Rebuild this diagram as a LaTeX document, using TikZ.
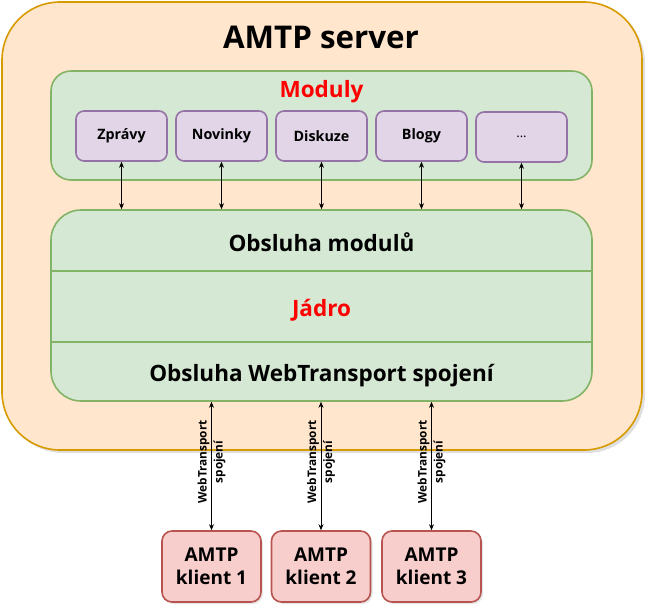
\documentclass[tikz,border=0pt]{standalone}
\usepackage{fontspec}
\setmainfont{Open Sans}
\usetikzlibrary{arrows.meta,shadows}
\definecolor{srvfill}{HTML}{FFE6CC}
\definecolor{srvline}{HTML}{D79B00}
\definecolor{grnfill}{HTML}{D5E8D4}
\definecolor{grnline}{HTML}{82B366}
\definecolor{modfill}{HTML}{E1D5E7}
\definecolor{modline}{HTML}{9673A6}
\definecolor{clifill}{HTML}{F8CECC}
\definecolor{cliline}{HTML}{B85450}
\begin{document}
\begin{tikzpicture}[x=1pt, y=-1pt,
  srvbox/.style={draw=srvline, fill=srvfill, line width=1.6pt, rounded corners=58pt,
    minimum width=640pt, minimum height=448pt, drop shadow={shadow xshift=3pt, shadow yshift=-3pt, opacity=0.25}},
  grnbox/.style={draw=grnline, fill=grnfill, line width=1.6pt, minimum width=541pt},
  modbox/.style={draw=modline, fill=modfill, line width=1.6pt, rounded corners=8pt,
    minimum width=91pt, minimum height=50pt, font=\bfseries\fontsize{14.3}{16}\selectfont},
  clibox/.style={draw=cliline, fill=clifill, line width=1.6pt, rounded corners=10pt,
    minimum width=99pt, minimum height=71pt, align=center, font=\bfseries\fontsize{19}{23}\selectfont},
  lbl/.style={anchor=base, font=\bfseries\fontsize{22.5}{25}\selectfont},
  conn/.style={{Stealth[length=6pt,width=5pt]}-{Stealth[length=6pt,width=5pt]}, line width=0.7pt},
  wtlbl/.style={rotate=90, align=center, font=\bfseries\fontsize{11.8}{16}\selectfont}]
\useasboundingbox (0,0) rectangle (654,614);
\node[srvbox] (server) at (322,226){};
\node[anchor=base, font=\bfseries\fontsize{31.3}{36}\selectfont] (title) at (321,48){AMTP server};
% moduly
\node[grnbox, rounded corners=20pt, minimum height=109pt] (moduly) at (321.5,125.5){};
\node[lbl, red] (modlbl) at (321.5,97){Moduly};
\node[modbox] (mod1) at (121.5,136){Zprávy};
\node[modbox] (mod2) at (221.5,136){Novinky};
\node[modbox] (mod3) at (321.5,136){Diskuze};
\node[modbox] (mod4) at (421.5,136){Blogy};
\node[modbox, font=\fontsize{13}{15}\selectfont] (mod5) at (521.5,137){...};
% jadro
\node[grnbox, rounded corners=30pt, minimum height=191pt] (core) at (321.5,305.5){};
\draw[grnline, line width=1.6pt] (core.west |- 0,271) -- (core.east |- 0,271);
\draw[grnline, line width=1.6pt] (core.west |- 0,342) -- (core.east |- 0,342);
\node[lbl] (obsmod) at (321.5,251){Obsluha modulů};
\node[lbl, red] (jadro) at (321.5,316){Jádro};
\node[lbl] (obswt) at (321.5,381){Obsluha WebTransport spojení};
\draw[conn](mod1.south) -- (mod1.south |- core.north);
\draw[conn](mod2.south) -- (mod2.south |- core.north);
\draw[conn](mod3.south) -- (mod3.south |- core.north);
\draw[conn](mod4.south) -- (mod4.south |- core.north);
\draw[conn](mod5.south) -- (mod5.south |- core.north);
% klienti
\node[clibox, drop shadow={shadow xshift=2pt, shadow yshift=-2pt, opacity=0.2}] (cli1) at (211.5,566.5){AMTP\\klient 1};
\node[clibox, drop shadow={shadow xshift=2pt, shadow yshift=-2pt, opacity=0.2}] (cli2) at (321,566.5){AMTP\\klient 2};
\node[clibox, drop shadow={shadow xshift=2pt, shadow yshift=-2pt, opacity=0.2}] (cli3) at (431.5,566.5){AMTP\\klient 3};
\draw[conn](cli1.north) -- node[wtlbl, xshift=4pt]{WebTransport\\spojení} (cli1.north |- core.south);
\draw[conn](cli2.north) -- node[wtlbl, xshift=4pt]{WebTransport\\spojení} (cli2.north |- core.south);
\draw[conn](cli3.north) -- node[wtlbl, xshift=4pt]{WebTransport\\spojení} (cli3.north |- core.south);
\end{tikzpicture}
\end{document}
